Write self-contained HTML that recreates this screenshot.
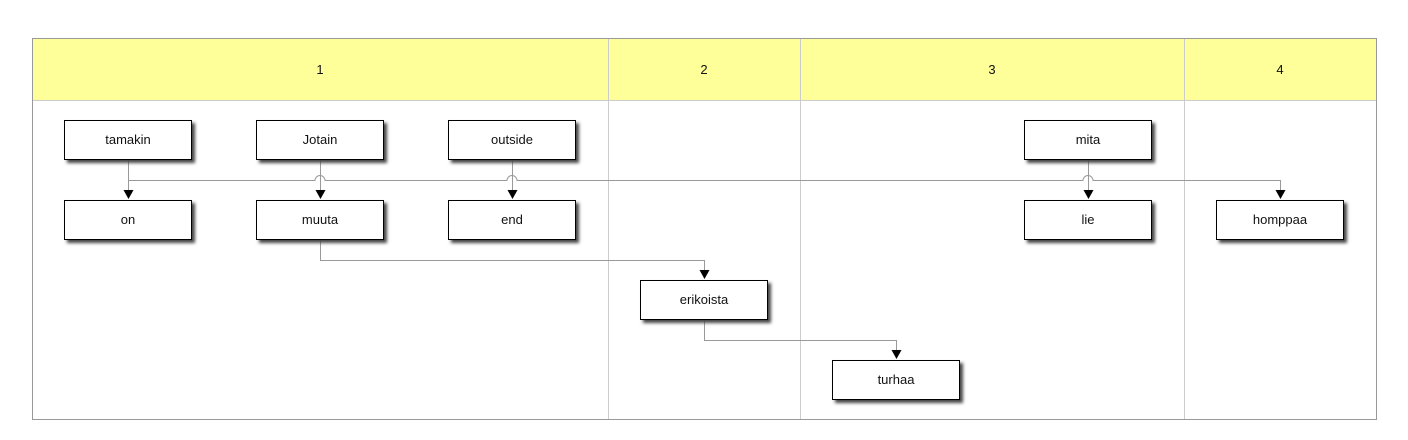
<!DOCTYPE html>
<html><head><style>body{margin:0;background:#fff}svg{display:block}text{font-family:"Liberation Sans",sans-serif;font-size:13px;fill:#111}</style></head>
<body>
<svg width="1408" height="440" viewBox="0 0 1408 440">
<defs>
<filter id="sh" x="-10%" y="-20%" width="130%" height="160%"><feGaussianBlur stdDeviation="1.5"/></filter>
</defs>
<rect x="32.5" y="38.5" width="1344" height="381" fill="#fff" stroke="#999"/>
<rect x="33" y="39" width="1343" height="61" fill="#ffff99"/>
<line x1="33" y1="100.5" x2="1376" y2="100.5" stroke="#ccc"/>
<g stroke="#ccc"><line x1="608.5" y1="39" x2="608.5" y2="419"/><line x1="800.5" y1="39" x2="800.5" y2="419"/><line x1="1184.5" y1="39" x2="1184.5" y2="419"/></g>
<text x="320" y="74" text-anchor="middle">1</text>
<text x="704" y="74" text-anchor="middle">2</text>
<text x="992" y="74" text-anchor="middle">3</text>
<text x="1280" y="74" text-anchor="middle">4</text>
<g fill="none" stroke="#999" stroke-width="1">
<path d="M128.5,160 V180.5 H315 A5,5 0 0 1 325,180.5 H507 A5,5 0 0 1 517,180.5 H1083 A5,5 0 0 1 1093,180.5 H1280.5 V190"/>
<path d="M128.5,180 V190"/>
<path d="M320.5,160 V190"/>
<path d="M512.5,160 V190"/>
<path d="M1088.5,160 V190"/>
<path d="M320.5,240 V260.5 H704.5 V270"/>
<path d="M704.5,320 V340.5 H896.5 V350"/>
</g>
<g fill="#000">
<path d="M123.5,190 h10 l-5,9 z"/>
<path d="M315.5,190 h10 l-5,9 z"/>
<path d="M507.5,190 h10 l-5,9 z"/>
<path d="M1083.5,190 h10 l-5,9 z"/>
<path d="M1275.5,190 h10 l-5,9 z"/>
<path d="M699.5,270 h10 l-5,9 z"/>
<path d="M891.5,350 h10 l-5,9 z"/>
</g>
<g>
<g transform="translate(64,120)"><rect x="3" y="3" width="128" height="40" fill="#444" filter="url(#sh)"/><rect x="0.5" y="0.5" width="127" height="39" fill="#fff" stroke="#000"/><text x="64" y="24" text-anchor="middle">tamakin</text></g>
<g transform="translate(256,120)"><rect x="3" y="3" width="128" height="40" fill="#444" filter="url(#sh)"/><rect x="0.5" y="0.5" width="127" height="39" fill="#fff" stroke="#000"/><text x="64" y="24" text-anchor="middle">Jotain</text></g>
<g transform="translate(448,120)"><rect x="3" y="3" width="128" height="40" fill="#444" filter="url(#sh)"/><rect x="0.5" y="0.5" width="127" height="39" fill="#fff" stroke="#000"/><text x="64" y="24" text-anchor="middle">outside</text></g>
<g transform="translate(1024,120)"><rect x="3" y="3" width="128" height="40" fill="#444" filter="url(#sh)"/><rect x="0.5" y="0.5" width="127" height="39" fill="#fff" stroke="#000"/><text x="64" y="24" text-anchor="middle">mita</text></g>
<g transform="translate(64,200)"><rect x="3" y="3" width="128" height="40" fill="#444" filter="url(#sh)"/><rect x="0.5" y="0.5" width="127" height="39" fill="#fff" stroke="#000"/><text x="64" y="24" text-anchor="middle">on</text></g>
<g transform="translate(256,200)"><rect x="3" y="3" width="128" height="40" fill="#444" filter="url(#sh)"/><rect x="0.5" y="0.5" width="127" height="39" fill="#fff" stroke="#000"/><text x="64" y="24" text-anchor="middle">muuta</text></g>
<g transform="translate(448,200)"><rect x="3" y="3" width="128" height="40" fill="#444" filter="url(#sh)"/><rect x="0.5" y="0.5" width="127" height="39" fill="#fff" stroke="#000"/><text x="64" y="24" text-anchor="middle">end</text></g>
<g transform="translate(1024,200)"><rect x="3" y="3" width="128" height="40" fill="#444" filter="url(#sh)"/><rect x="0.5" y="0.5" width="127" height="39" fill="#fff" stroke="#000"/><text x="64" y="24" text-anchor="middle">lie</text></g>
<g transform="translate(1216,200)"><rect x="3" y="3" width="128" height="40" fill="#444" filter="url(#sh)"/><rect x="0.5" y="0.5" width="127" height="39" fill="#fff" stroke="#000"/><text x="64" y="24" text-anchor="middle">homppaa</text></g>
<g transform="translate(640,280)"><rect x="3" y="3" width="128" height="40" fill="#444" filter="url(#sh)"/><rect x="0.5" y="0.5" width="127" height="39" fill="#fff" stroke="#000"/><text x="64" y="24" text-anchor="middle">erikoista</text></g>
<g transform="translate(832,360)"><rect x="3" y="3" width="128" height="40" fill="#444" filter="url(#sh)"/><rect x="0.5" y="0.5" width="127" height="39" fill="#fff" stroke="#000"/><text x="64" y="24" text-anchor="middle">turhaa</text></g>
</g>
</svg>
</body></html>
